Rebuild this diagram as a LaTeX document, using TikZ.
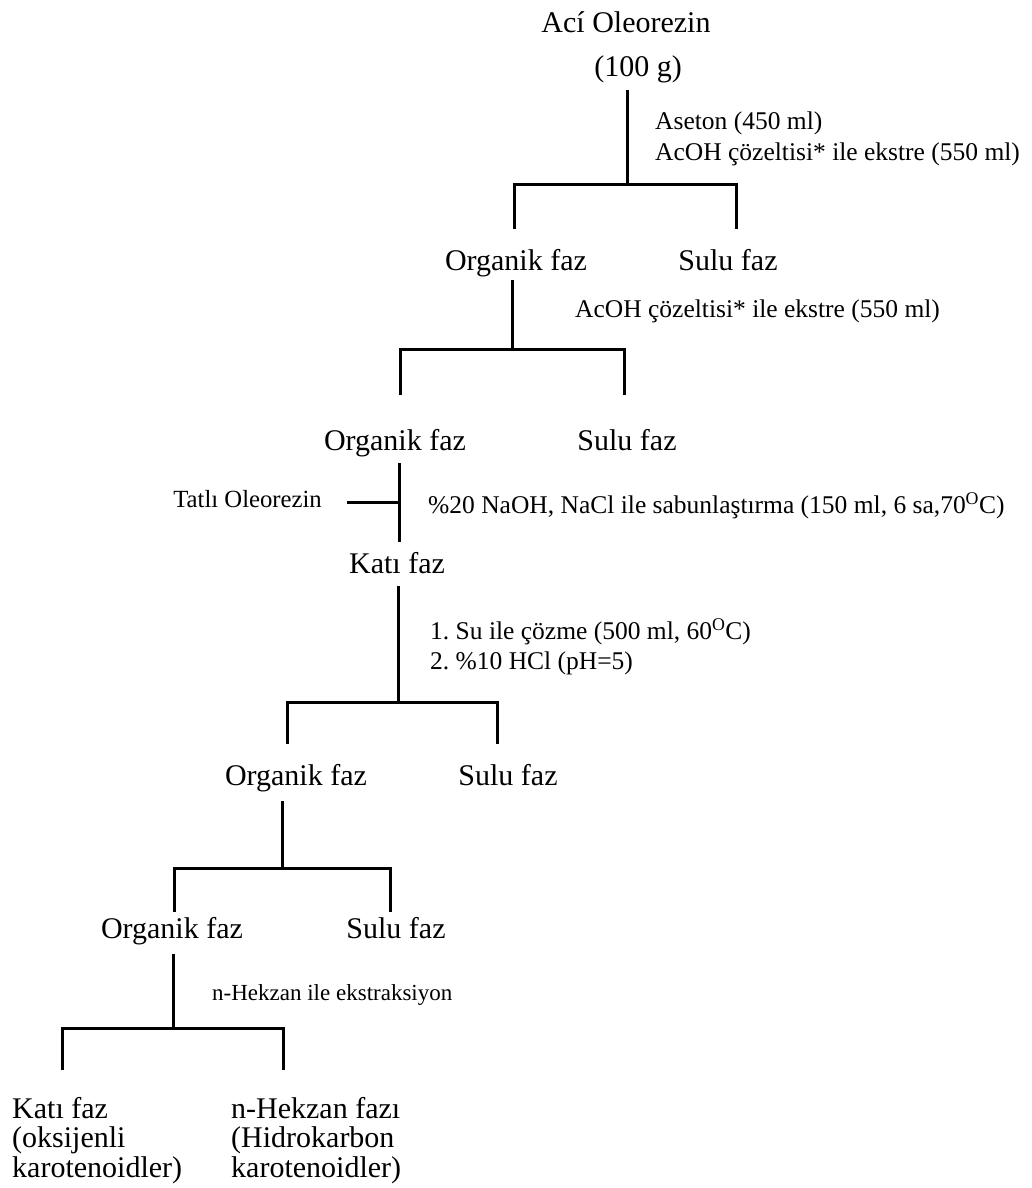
\documentclass[tikz,border=0pt]{standalone}
\usepackage{fontspec}
\setmainfont{Liberation Serif}
\frenchspacing
\begin{document}
\begin{tikzpicture}[x=1pt,y=-1pt,
  ln/.style={line width=3pt,line join=miter,line cap=rect},
  big/.style={font=\fontsize{30}{29.5}\selectfont,inner xsep=0pt,inner ysep=14pt,text depth=0pt},
  blk/.style={font=\fontsize{30}{29.5}\selectfont,inner sep=0pt,align=left,anchor=north west},
  ann/.style={font=\fontsize{25.5}{30.5}\selectfont,inner sep=0pt,align=left,anchor=north west},
  hex/.style={font=\fontsize{23}{28}\selectfont,inner sep=0pt,anchor=north west}]
\useasboundingbox[fill=white] (0,0) rectangle (1031,1188);

% ---- level 0
\node[big,anchor=base] (aci) at (626,33) {Ací Oleorezin};
\node[big,anchor=base] (src) at (638,77) {(100 g)};
\node[ann] (a1) at (655,112) {Aseton (450 ml)\\AcOH çözeltisi* ile ekstre (550 ml)};
\coordinate (b1) at (627,184);
\coordinate (l1a) at (514,227);
\coordinate (l1b) at (736,227);
\draw[ln] (b1 |- src.south) -- (b1);
\draw[ln] (l1a) |- (b1) -| (l1b);

% ---- level 1
\node[big,anchor=base] (o1) at (516,270) {Organik faz};
\node[big,anchor=base] (s1) at (728,270) {Sulu faz};
\node[ann] (a2) at (575,300) {AcOH çözeltisi* ile ekstre (550 ml)};
\coordinate (b2) at (512,349);
\coordinate (l2a) at (400,393);
\coordinate (l2b) at (624,393);
\draw[ln,shorten <=-3pt] (b2 |- o1.south) -- (b2);
\draw[ln] (l2a) |- (b2) -| (l2b);

% ---- level 2
\node[big,anchor=base] (o2) at (395,450) {Organik faz};
\node[big,anchor=base] (s2) at (627,450) {Sulu faz};
\node[big,anchor=base] (k1) at (397,573) {Katı faz};
\coordinate (tk) at (399,502);
\draw[ln,shorten >=-3pt] (tk |- o2.south) -- (tk |- k1.north);
\node[font=\fontsize{24.7}{30}\selectfont,inner sep=0pt,anchor=base east] (tat) at (322,507) {Tatlı Oleorezin};
\draw[ln,shorten <=26pt] (tk -| tat.east) -- (tk);
\node[ann] (a3) at (428,492) {\%20 NaOH, NaCl ile sabunlaştırma (150 ml, 6 sa,70\textsuperscript{O}C)};

% ---- level 3
\node[ann] (a4) at (430,618) {1. Su ile çözme (500 ml, 60\textsuperscript{O}C)\\2. \%10 HCl (pH=5)};
\coordinate (b4) at (398,702);
\coordinate (l4a) at (287,742);
\coordinate (l4b) at (497,742);
\draw[ln] (b4 |- k1.south) -- (b4);
\draw[ln] (l4a) |- (b4) -| (l4b);

% ---- level 4
\node[big,anchor=base] (o4) at (296,785) {Organik faz};
\node[big,anchor=base] (s4) at (508,785) {Sulu faz};
\coordinate (b5) at (282,868);
\coordinate (l5a) at (174,910);
\coordinate (l5b) at (390,910);
\draw[ln,shorten <=3pt] (b5 |- o4.south) -- (b5);
\draw[ln] (l5a) |- (b5) -| (l5b);

% ---- level 5
\node[big,anchor=base] (o5) at (172,938) {Organik faz};
\node[big,anchor=base] (s5) at (396,938) {Sulu faz};
\node[hex] (a5) at (212,984) {n-Hekzan ile ekstraksiyon};
\coordinate (b6) at (173,1028);
\coordinate (l6a) at (62,1068);
\coordinate (l6b) at (283,1068);
\draw[ln,shorten <=3pt] (b6 |- o5.south) -- (b6);
\draw[ln] (l6a) |- (b6) -| (l6b);

% ---- level 6
\node[blk] (k2) at (12,1097) {Katı faz\\(oksijenli\\karotenoidler)};
\node[blk] (h2) at (231,1097) {n-Hekzan fazı\\(Hidrokarbon\\karotenoidler)};
\end{tikzpicture}
\end{document}
